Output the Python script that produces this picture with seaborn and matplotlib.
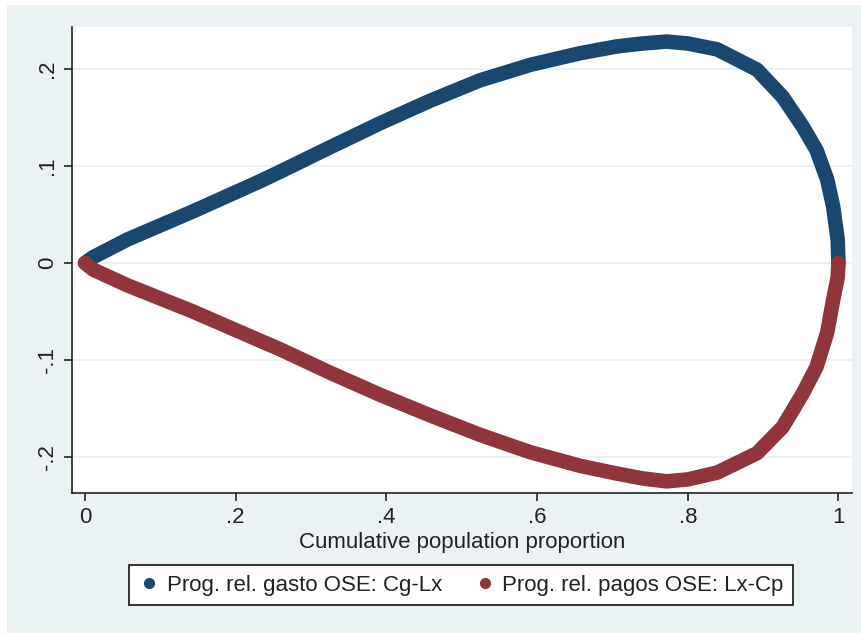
import matplotlib
matplotlib.use("Agg")
import matplotlib.pyplot as plt
from matplotlib.lines import Line2D
from matplotlib.patches import Rectangle
import seaborn as sns
import pandas as pd

# Data
x_gasto = [0.0, 0.011, 0.056, 0.143, 0.232, 0.259, 0.325, 0.392, 0.458, 0.524, 0.591, 0.657,
           0.706, 0.740, 0.772, 0.800, 0.839, 0.892, 0.926, 0.953, 0.971, 0.985, 0.993, 0.999, 1.0]
y_gasto = [0.0, 0.006, 0.024, 0.053, 0.084, 0.094, 0.119, 0.144, 0.167, 0.188, 0.204, 0.216,
           0.223, 0.226, 0.228, 0.226, 0.220, 0.199, 0.171, 0.140, 0.116, 0.086, 0.058, 0.024, 0.0]
x_pagos = [0.0, 0.011, 0.056, 0.143, 0.232, 0.259, 0.325, 0.392, 0.458, 0.524, 0.591, 0.657,
           0.706, 0.740, 0.772, 0.800, 0.839, 0.892, 0.926, 0.953, 0.971, 0.985, 0.993, 0.999, 1.0]
y_pagos = [0.0, -0.007, -0.023, -0.050, -0.080, -0.089, -0.113, -0.136, -0.157, -0.177, -0.195, -0.209,
           -0.217, -0.222, -0.225, -0.223, -0.216, -0.196, -0.169, -0.134, -0.107, -0.072, -0.038, -0.015, 0.0]
series_names = ["Prog. rel. gasto OSE: Cg-Lx", "Prog. rel. pagos OSE: Lx-Cp"]
colors = ["#1A476F", "#90353B"]
xticks = [0, 0.2, 0.4, 0.6, 0.8, 1.0]
xtick_labels = ["0", ".2", ".4", ".6", ".8", "1"]
yticks = [-0.2, -0.1, 0, 0.1, 0.2]
ytick_labels = ["-.2", "-.1", "0", ".1", ".2"]
xlabel = "Cumulative population proportion"

df = pd.concat([
    pd.DataFrame({"x": x_gasto, "y": y_gasto, "s": series_names[0]}),
    pd.DataFrame({"x": x_pagos, "y": y_pagos, "s": series_names[1]}),
])

sns.set_style("white")
plt.rcParams["font.family"] = ["Liberation Sans", "DejaVu Sans"]

fig = plt.figure(figsize=(8.62, 6.35), dpi=100, facecolor="white")
bg = Rectangle((7 / 862, 2 / 635), 1 - 7 / 862, 628 / 635,
               transform=fig.transFigure, facecolor="#EAF2F3",
               edgecolor="none", zorder=-10)
fig.add_artist(bg)
ax = fig.add_axes([72 / 862, 142 / 635, 780 / 862, 466 / 635])
ax.set_zorder(1)
ax.set_facecolor("white")

for name, col in zip(series_names, colors):
    sub = df[df["s"] == name]
    sns.lineplot(data=sub, x="x", y="y", color=col, linewidth=10.5, sort=False,
                 ax=ax, legend=False, solid_capstyle="round", solid_joinstyle="round",
                 estimator=None, zorder=3)

ax.set_xlim(-0.0173, 1.018)
ax.set_ylim(-0.237, 0.243)
ax.set_xticks(xticks)
ax.set_xticklabels(xtick_labels)
ax.set_yticks(yticks)
ax.set_yticklabels(ytick_labels, rotation=90, va="center")
ax.grid(axis="y", color="#EAF2F3", linewidth=1.5, zorder=0)
ax.grid(axis="x", visible=False)
for s in ["top", "right"]:
    ax.spines[s].set_visible(False)
for s in ["left", "bottom"]:
    ax.spines[s].set_color("#222222")
    ax.spines[s].set_linewidth(1.2)
ax.tick_params(axis="both", direction="out", length=6, width=1.2, color="#222222",
               labelsize=16, labelcolor="#222222", left=True, bottom=True, pad=4)
ax.set_xlabel(xlabel, fontsize=16, color="#222222", labelpad=3)
ax.set_ylabel("")

handles = [Line2D([], [], marker="o", linestyle="none", color=c, markersize=7) for c in colors]
leg = fig.legend(handles, series_names, loc="center", bbox_to_anchor=(461 / 862, 1 - 585 / 635),
                 ncol=2, frameon=True, fancybox=False, fontsize=16, handletextpad=0.3,
                 columnspacing=1.4, borderpad=0.42, handlelength=1.0, framealpha=1)
leg.get_frame().set_edgecolor("#111111")
leg.get_frame().set_facecolor("white")
leg.get_frame().set_linewidth(1.2)
for t in leg.get_texts():
    t.set_color("#222222")

fig.savefig("out.png", dpi=100, facecolor="white")
